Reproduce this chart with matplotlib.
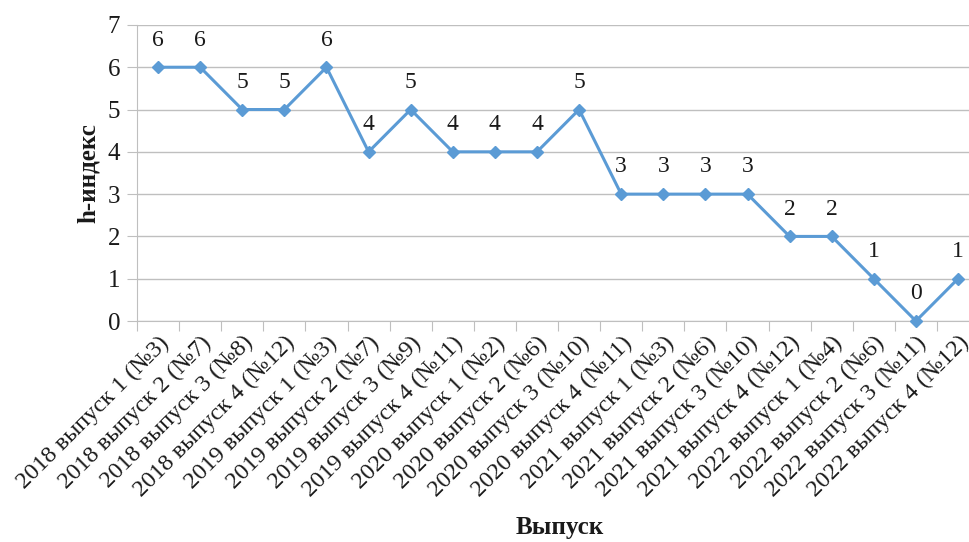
import numpy as np
import matplotlib.pyplot as plt

plt.rcParams['font.family'] = ['Liberation Serif', 'DejaVu Serif']

issues = ["2018 выпуск 1 (№3)", "2018 выпуск 2 (№7)", "2018 выпуск 3 (№8)", "2018 выпуск 4 (№12)",
          "2019 выпуск 1 (№3)", "2019 выпуск 2 (№7)", "2019 выпуск 3 (№9)", "2019 выпуск 4 (№11)",
          "2020 выпуск 1 (№2)", "2020 выпуск 2 (№6)", "2020 выпуск 3 (№10)", "2020 выпуск 4 (№11)",
          "2021 выпуск 1 (№3)", "2021 выпуск 2 (№6)", "2021 выпуск 3 (№10)", "2021 выпуск 4 (№12)",
          "2022 выпуск 1 (№4)", "2022 выпуск 2 (№6)", "2022 выпуск 3 (№11)", "2022 выпуск 4 (№12)"]
h_index = [6, 6, 5, 5, 6, 4, 5, 4, 4, 4, 5, 3, 3, 3, 3, 2, 2, 1, 0, 1]

line_color = '#5B9BD5'
grid_color = '#BFBFBF'
text_color = '#1a1a1a'

fig = plt.figure(figsize=(9.69, 5.42), dpi=100)
ax = fig.add_axes([0.1414, 0.4077, 0.869, 0.5463])

x = np.arange(len(issues))
ax.plot(x, h_index, color=line_color, lw=2.2, marker='D', ms=6.5, zorder=3, clip_on=False)

for xi, v in zip(x, h_index):
    ax.annotate(str(v), (xi, v), xytext=(0, 12), textcoords='offset points',
                ha='center', va='bottom', fontsize=17, color=text_color)

ax.set_xlim(-0.5, len(issues) - 0.5)
ax.set_ylim(0, 7)
ax.set_yticks(range(8))
ax.grid(axis='y', color=grid_color, lw=1)
ax.set_axisbelow(True)

# ticks between categories, labels at centres
ax.set_xticks(np.arange(-0.5, len(issues) + 0.5, 1))
ax.set_xticklabels([])
ax.set_xticks(x, minor=True)
ax.set_xticklabels(issues, minor=True, rotation=45, ha='right', rotation_mode='anchor',
                   fontsize=17.5, color=text_color)
ax.tick_params(axis='x', which='minor', length=0, pad=8)
ax.tick_params(axis='x', which='major', length=7, color=grid_color)
ax.tick_params(axis='y', length=7, color=grid_color, labelsize=18, labelcolor=text_color, pad=5)

for s in ['top', 'right']:
    ax.spines[s].set_visible(False)
ax.spines['left'].set_color(grid_color)
ax.spines['bottom'].set_color(grid_color)

fig.text(0.091, 0.68, 'h-индекс', rotation=90, ha='center', va='center', fontsize=18,
         fontweight='bold', color=text_color)
fig.text(0.578, 0.026, 'Выпуск', ha='center', va='center', fontsize=18,
         fontweight='bold', color=text_color)

fig.savefig('out.png', dpi=100)
